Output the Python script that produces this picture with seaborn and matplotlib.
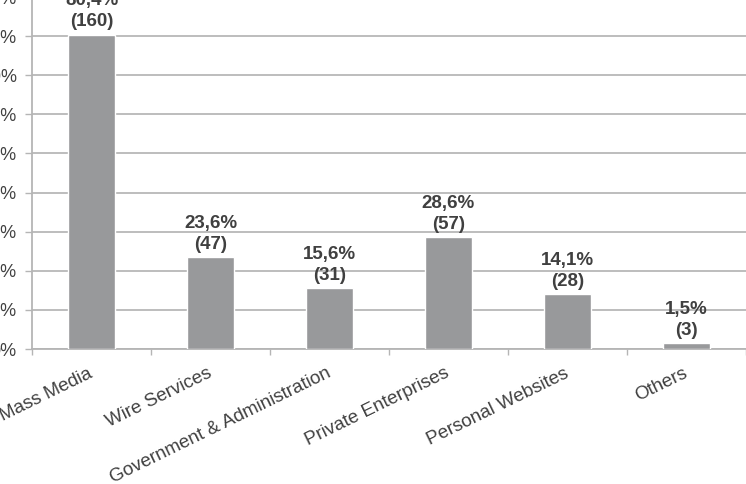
import matplotlib
matplotlib.use("Agg")
import matplotlib.pyplot as plt
import seaborn as sns
import pandas as pd
from matplotlib.ticker import FuncFormatter, MultipleLocator

# data
categories = ["Mass Media", "Wire Services", "Government & Administration",
              "Private Enterprises", "Personal Websites", "Others"]
percents = [80.4, 23.6, 15.6, 28.6, 14.1, 1.5]
counts = [160, 47, 31, 57, 28, 3]

df = pd.DataFrame({"category": categories, "percent": percents, "count": counts})

sns.set_style("white")
plt.rcParams["font.family"] = ["Liberation Sans", "DejaVu Sans"]

fig = plt.figure(figsize=(7.46, 4.84), dpi=100)
# axes deliberately runs past the top/left edges like the cropped original
ax = fig.add_axes([32 / 746, 135 / 484, 714 / 746, 352 / 484])

sns.barplot(data=df, x="category", y="percent", color="#98999b",
            width=0.39, saturation=1, ax=ax, zorder=3)

ax.set_ylim(0, 90)
ax.set_xlim(-0.5, len(categories) - 0.5)
ax.yaxis.set_major_locator(MultipleLocator(10))
ax.yaxis.set_major_formatter(FuncFormatter(lambda v, p: f"{v:.0f}%"))
ax.grid(axis="y", color="#b8b8b8", linewidth=1.3, zorder=0)
ax.set_axisbelow(True)

for s in ["top", "right"]:
    ax.spines[s].set_visible(False)
for s in ["left", "bottom"]:
    ax.spines[s].set_color("#b5b5b5")
    ax.spines[s].set_linewidth(1.3)

ax.tick_params(axis="y", length=5, width=1.0, color="#b5b5b5", pad=6,
               labelsize=13, labelcolor="#404040", left=True)
# x ticks sit between categories
ax.set_xticks([i - 0.5 for i in range(len(categories) + 1)], minor=True)
ax.tick_params(axis="x", which="minor", length=4, width=1.0, color="#b5b5b5", bottom=True)
ax.tick_params(axis="x", which="major", length=0, pad=17)
ax.set_xticks(range(len(categories)))
ax.set_xticklabels(categories, rotation=26, ha="right", va="center",
                   rotation_mode="anchor", fontsize=13.5, color="#404040")
ax.set_xlabel("")
ax.set_ylabel("")

for i, (p, c) in enumerate(zip(percents, counts)):
    label = f"{p:.1f}%".replace(".", ",") + f"\n({c})"
    ax.annotate(label, (i, p), xytext=(0, 3), textcoords="offset points",
                ha="center", va="bottom", fontsize=13.5, fontweight="bold",
                color="#404040", linespacing=1.3)

fig.savefig("out.png", dpi=100)
